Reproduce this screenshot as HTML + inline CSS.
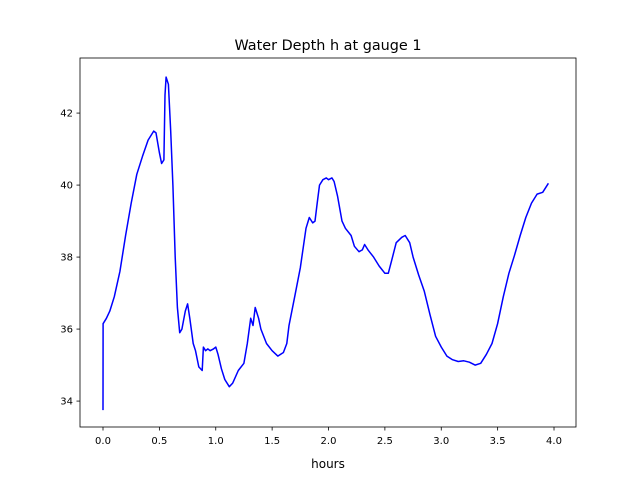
<!DOCTYPE html>
<html><head><meta charset="utf-8"><style>body{margin:0;background:#fff}svg{display:block;font-family:"DejaVu Sans","Liberation Sans",sans-serif}</style></head>
<body>
<svg id="chart" width="640" height="480" xmlns="http://www.w3.org/2000/svg">
<rect width="640" height="480" fill="#fff"/>
<text x="328" y="50" font-size="14.4" text-anchor="middle">Water Depth h at gauge 1</text>
<g id="axes"></g>
<text x="328" y="468" font-size="12" text-anchor="middle">hours</text>
</svg>
<script>
const xTicks=[0.0,0.5,1.0,1.5,2.0,2.5,3.0,3.5,4.0];
const yTicks=[34,36,38,40,42];
const hours=[0,0.001,0.03,0.06,0.1,0.15,0.2,0.25,0.3,0.35,0.4,0.45,0.47,0.5,0.52,0.54,0.55,0.56,0.58,0.6,0.62,0.64,0.66,0.68,0.7,0.73,0.75,0.77,0.8,0.82,0.85,0.88,0.89,0.91,0.93,0.95,0.98,1.0,1.02,1.05,1.08,1.12,1.15,1.2,1.25,1.28,1.31,1.33,1.35,1.38,1.4,1.45,1.5,1.55,1.6,1.63,1.65,1.7,1.75,1.8,1.83,1.86,1.88,1.9,1.92,1.95,1.98,2.0,2.03,2.05,2.08,2.12,2.15,2.2,2.23,2.27,2.3,2.32,2.35,2.4,2.45,2.5,2.53,2.56,2.6,2.65,2.68,2.72,2.75,2.8,2.85,2.9,2.95,3.0,3.05,3.1,3.15,3.2,3.25,3.3,3.35,3.4,3.45,3.5,3.55,3.6,3.65,3.7,3.75,3.8,3.85,3.9,3.95,4.0];
const depth=[33.75,36.15,36.3,36.5,36.9,37.6,38.6,39.5,40.3,40.8,41.25,41.5,41.45,40.9,40.6,40.7,42.5,43.0,42.8,41.5,40,38,36.6,35.9,36.0,36.5,36.7,36.3,35.6,35.4,34.95,34.85,35.5,35.4,35.45,35.4,35.45,35.5,35.3,34.9,34.6,34.4,34.5,34.85,35.05,35.6,36.3,36.1,36.6,36.3,36.0,35.6,35.4,35.25,35.35,35.6,36.1,36.9,37.7,38.8,39.1,38.95,39.0,39.5,40.0,40.15,40.2,40.15,40.2,40.1,39.7,39.0,38.8,38.6,38.3,38.15,38.2,38.35,38.2,38.0,37.75,37.55,37.55,37.9,38.4,38.55,38.6,38.4,38.0,37.5,37.05,36.4,35.8,35.5,35.25,35.15,35.1,35.12,35.08,35.0,35.05,35.3,35.6,36.15,36.9,37.55,38.05,38.6,39.1,39.5,39.75,40.05,40.05,40.05];
depth.splice(depth.length-3,3,39.8,40.05);
const L=80,R=576,T=58,B=427;
const xMin=-0.204,xMax=4.195,yMin=33.28,yMax=43.53;
const sx=v=>L+(v-xMin)/(xMax-xMin)*(R-L);
const sy=v=>B-(v-yMin)/(yMax-yMin)*(B-T);
const NS="http://www.w3.org/2000/svg";
const g=document.getElementById('axes');
function mk(t,a,p){const e=document.createElementNS(NS,t);for(const k in a)e.setAttribute(k,a[k]);(p||g).appendChild(e);return e;}
let d='';
const n=Math.min(hours.length,depth.length);
for(let i=0;i<n;i++)d+=(i?'L':'M')+sx(hours[i]).toFixed(1)+','+sy(depth[i]).toFixed(1);
const line=mk('path',{d:d,fill:'none',stroke:'#0000ff','stroke-width':1.5,'stroke-linejoin':'round'});


const frame=mk('rect',{x:L,y:T,width:R-L,height:B-T,fill:'none',stroke:'#000','stroke-width':0.8});


xTicks.forEach(v=>{const x=sx(v);
 const t=mk('line',{x1:x,x2:x,y1:B,y2:B+3.5,stroke:'#000','stroke-width':0.8});
 
 
 const tx=mk('text',{x:x,y:B+17,'font-size':10,'text-anchor':'middle'});tx.textContent=v.toFixed(1);
 
 });
yTicks.forEach(v=>{const y=sy(v);
 const t=mk('line',{x1:L-3.5,x2:L,y1:y,y2:y,stroke:'#000','stroke-width':0.8});
 
 
 const tx=mk('text',{x:L-7,y:y+3.5,'font-size':10,'text-anchor':'end'});tx.textContent=v;
 
 });
</script>
</body></html>
